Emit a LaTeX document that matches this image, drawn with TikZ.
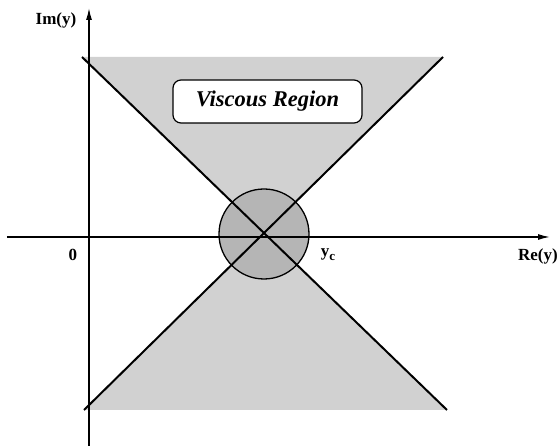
\documentclass[tikz,border=0pt]{standalone}
\usepackage{fontspec}
\setmainfont{Liberation Serif}
\usepackage{tikz}
\usetikzlibrary{arrows.meta, positioning}

\begin{document}
\begin{tikzpicture}[x=1pt, y=1pt,
  axis/.style={line width=1.4pt, -{Latex[length=12pt,width=6pt]}},
  border/.style={line width=2pt},
  zone/.style={fill=gray!36},
  core/.style={fill=gray!58, draw, line width=1.3pt},
  lbl/.style={font=\fontsize{17}{19}\selectfont\bfseries, inner sep=1pt},
  tag/.style={draw, line width=1.2pt, fill=white, rounded corners=8pt,
              minimum width=189pt, minimum height=43pt,
              font=\fontsize{22.5}{25}\selectfont\bfseries\itshape},
]
  % Frame
  \useasboundingbox (-89,-209) rectangle (471,237);

  % Corner points of the two wedges
  \coordinate (tl) at (-7,180);
  \coordinate (tr) at (354,180);
  \coordinate (bl) at (-5,-173);
  \coordinate (br) at (358,-173);
  \coordinate (yc) at (175,3);

  % Shaded wedges and critical circle
  \fill[zone] (tl) -- (tr) -- (yc) -- cycle;
  \fill[zone] (bl) -- (br) -- (yc) -- cycle;
  \node[core, circle, minimum size=90pt, inner sep=0pt] (crit) at (yc) {};

  % Axes
  \coordinate (xlo) at (-82,0);
  \coordinate (xhi) at (461,0);
  \coordinate (ylo) at (0,-209);
  \coordinate (yhi) at (0,229);
  \draw[axis] (xlo) -- (xhi);
  \draw[axis] (ylo) -- (yhi);

  % Wedge borders
  \draw[border] (tl) -- (br);
  \draw[border] (tr) -- (bl);

  % Labels
  \node[tag] (visc) at (178.5,135.5) {Viscous Region};
  \node[lbl] (im) at (-33,217) {Im(y)};
  \node[lbl, anchor=east] (re) at (470,-19) {Re(y)};
  \node[lbl] (zero) at (-16,-18) {0};
  \node[lbl] (ycl) at (239,-18) {y\raisebox{-4pt}{\fontsize{13}{13}\selectfont c}};

\end{tikzpicture}
\end{document}
